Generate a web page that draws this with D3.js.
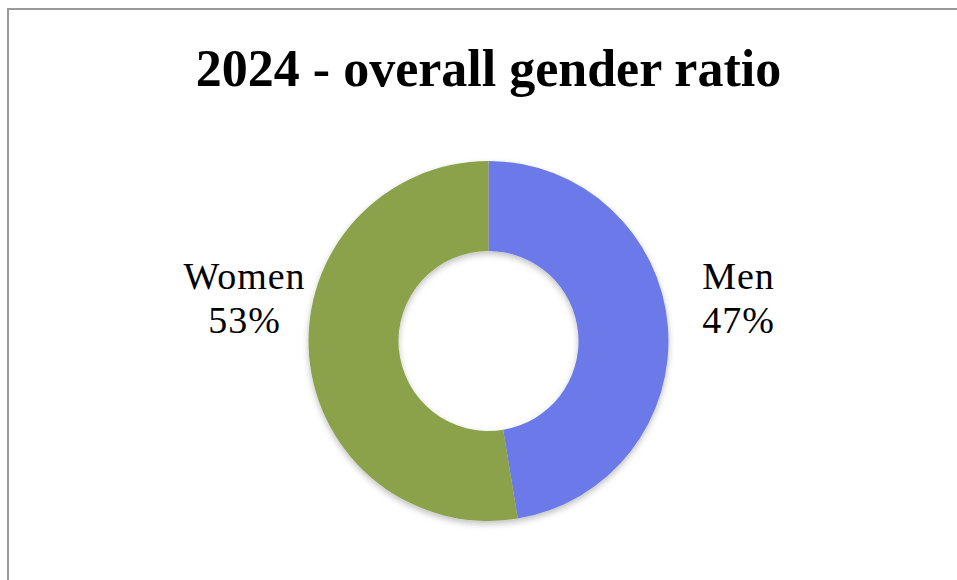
<html>
<head>
<meta charset="utf-8">
<title>2024 - overall gender ratio</title>
<script src="https://d3js.org/d3.v7.min.js"></script>
<style>
  body { margin: 0; background: #fff; }
  svg text { font-family: "Liberation Serif", "DejaVu Serif", serif; }
</style>
</head>
<body>
<div id="chart"></div>
<script>
// Données
const categories = ["Men", "Women"];
const shares = [0.474, 0.526];
const colors = ["#6c7ae9", "#8ba24b"];

const width = 957, height = 580;
const cx = 488.5, cy = 341, outerR = 180, innerR = 90;

const svg = d3.select("#chart").append("svg")
  .attr("width", width)
  .attr("height", height);

// cadre
svg.append("rect")
  .attr("x", 8).attr("y", 9)
  .attr("width", width).attr("height", height)
  .attr("fill", "#fff")
  .attr("stroke", "#999")
  .attr("stroke-width", 2);

// ombre douce
const defs = svg.append("defs");
defs.append("filter").attr("id", "shadow")
  .attr("x", "-20%").attr("y", "-20%").attr("width", "140%").attr("height", "140%")
  .append("feDropShadow")
  .attr("dx", 0).attr("dy", 3).attr("stdDeviation", 3)
  .attr("flood-color", "#000").attr("flood-opacity", 0.25);

svg.append("text")
  .attr("x", cx).attr("y", 86)
  .attr("text-anchor", "middle")
  .attr("font-size", 52)
  .attr("font-weight", "bold")
  .text("2024 - overall gender ratio");

const data = categories.map((c, i) => ({ name: c, value: shares[i], color: colors[i] }));

const pie = d3.pie().value(d => d.value).sort(null);
const arc = d3.arc().innerRadius(innerR).outerRadius(outerR);

const g = svg.append("g")
  .attr("transform", `translate(${cx},${cy})`);

g.append("g").attr("filter", "url(#shadow)")
  .selectAll("path")
  .data(pie(data))
  .enter().append("path")
  .attr("d", arc)
  .attr("fill", d => d.data.color);

// étiquettes
const labelPos = { Men: [250, -52], Women: [-244, -52] };
const fmt = d3.format(".0%");
pie(data).forEach(d => {
  const p = labelPos[d.data.name];
  const t = g.append("text")
    .attr("text-anchor", "middle")
    .attr("font-size", 38)
    .attr("letter-spacing", 1)
    .attr("fill", "#000");
  t.append("tspan").attr("x", p[0]).attr("y", p[1]).text(d.data.name);
  t.append("tspan").attr("x", p[0]).attr("y", p[1] + 44).text(fmt(d.data.value));
});
</script>
</body>
</html>
